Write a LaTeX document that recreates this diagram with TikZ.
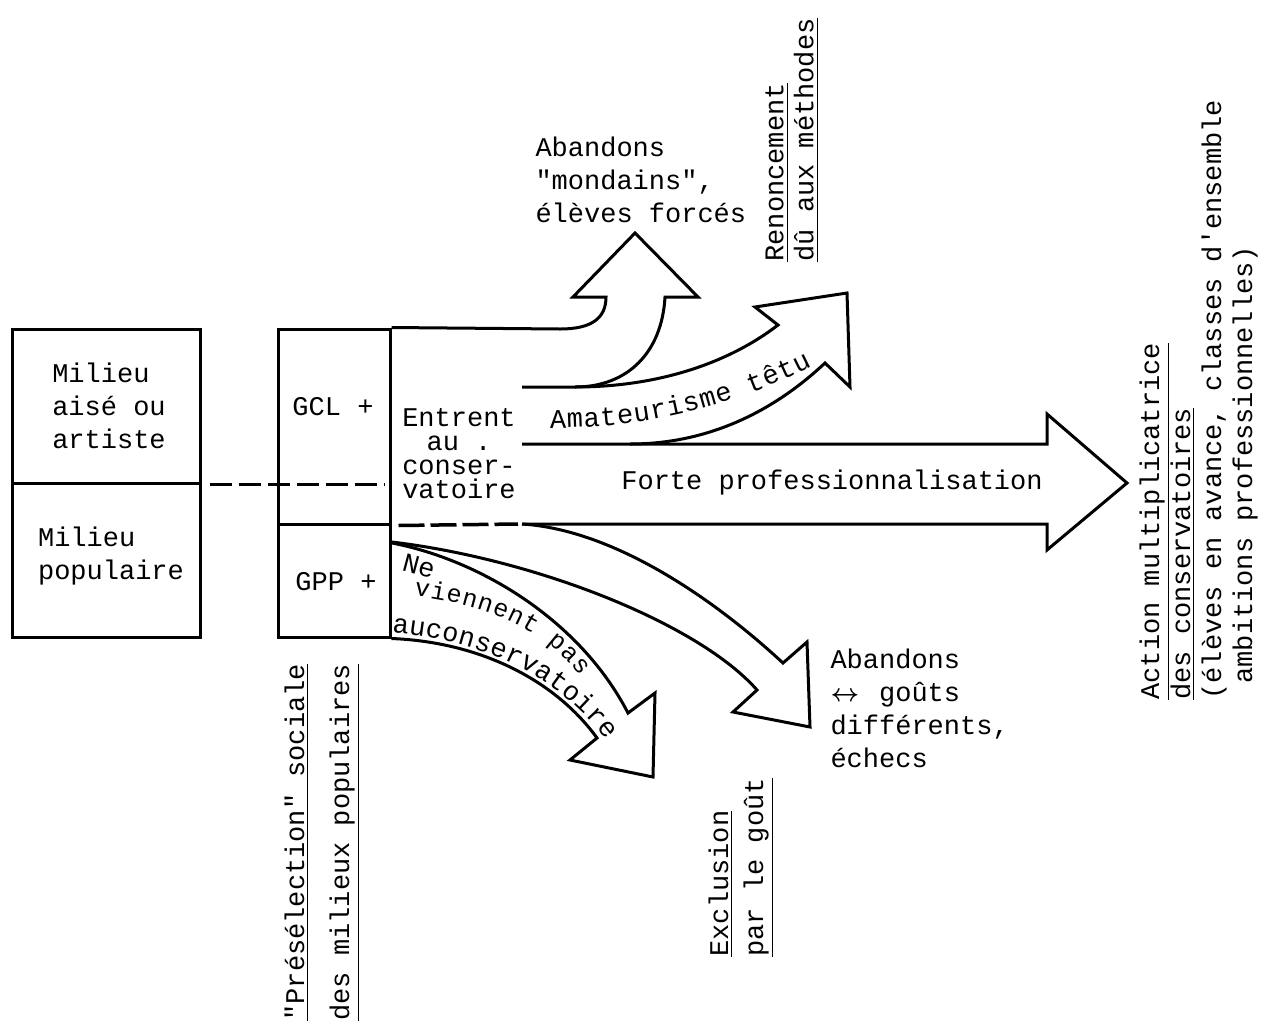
\documentclass[tikz,border=0pt]{standalone}
\usepackage{amsmath}
\usepackage{fontspec}
\newfontfamily\typew{Liberation Mono}
\usetikzlibrary{decorations.text}
\newcommand\tightfont{\typew\fontsize{27}{24}\selectfont\lineskiplimit=-20pt\relax}

\begin{document}
\typew\fontsize{27}{33}\selectfont
\begin{tikzpicture}[x=1pt,y=-1pt,line width=3pt,
  font=\typew\fontsize{27}{33}\selectfont,
  cell/.style={draw,inner sep=0pt},
  lbl/.style={inner sep=0pt,align=left},
  vtext/.style={rotate=90,anchor=north west,align=left,inner sep=0pt},
  dashline/.style={dash pattern=on 22pt off 7pt,line width=3.5pt},
  curvetext/.style={decorate,decoration={text along path,text={#1},text align={fit to path}}}]
\useasboundingbox (0,0) rectangle (1269,1023);

% milieux
\node[cell,minimum width=188pt,minimum height=154pt] (aise) at (106,406) {};
\node[cell,minimum width=188pt,minimum height=154pt] (popu) at (106,560) {};
\node[lbl] (aisetxt) at (109,406) {Milieu\\aisé ou\\artiste};
\node[lbl] (poputxt) at (111,556) {Milieu\\populaire};

% groupes
\node[cell,minimum width=112pt,minimum height=195pt] (gcl) at (334,426.5) {};
\node[cell,minimum width=112pt,minimum height=113pt] (gpp) at (334,580.5) {};
\node (gcltxt) at (333,407) {GCL +};
\node (gpptxt) at (336,582) {GPP +};

\draw[dashline] ([xshift=8pt]aise.south east) -- ([xshift=-7pt]gcl.east |- aise.south);
\draw[dashline,dash pattern=on 26pt off 6pt] ([xshift=7pt]gcl.south east) -- (518,524);

% fleches vers le haut
\draw (gcl.north east) -- (560,329) .. controls (592,329) and (606,318) .. (606,297)
  -- (573,297) -- (635,233) -- (698,297) -- (665,297)
  .. controls (662,352) and (628,387) .. (575,387) -- (522,387);
\draw (575,387) .. controls (660,387) and (730,362) .. (778,325) -- (755,307) -- (847,293)
  -- (850,387) -- (825,363) .. controls (775,410) and (710,444) .. (630,444);
\draw (522,444) -- (1047,444) -- (1047,414) -- (1127,483) -- (1047,550) -- (1047,524) -- (522,524);

% fleches vers le bas
\draw (522,524) .. controls (615,530) and (715,600) .. (783,663) -- (807,642) -- (810,727)
  -- (733,712) -- (757,690) .. controls (700,625) and (540,560) .. (392,542);
\draw (392,543) .. controls (480,560) and (580,620) .. (628,713) -- (655,693) -- (653,777)
  -- (570,760) -- (597,738) .. controls (555,680) and (480,642) .. (gpp.south east);

\node[align=center,inner sep=0pt,font=\tightfont] (entrent) at (459,454) {Entrent\\au .\\conser-\\vatoire};
\node (prof) at (832,483) {Forte professionnalisation};
\path[curvetext={Amateurisme têtu}] (550,428) .. controls (640,428) and (725,410) .. (812,366);
\node[rotate=-15] (ne) at (419,566) {Ne};
{\fontsize{25}{30}\selectfont
\path[curvetext={viennent pas}] (414,596) .. controls (486,604) and (546,630) .. (580,676);}
\path[curvetext={auconservatoire}] (392,633) .. controls (482,640) and (558,676) .. (606,740);

\node[lbl,anchor=west] (mondain) at (534,180) {Abandons\\"mondains",\\élèves forcés};
\node[lbl,anchor=west] (echec) at (829,708) {Abandons\\$\boldsymbol{\leftrightarrow}$\hspace{20pt}goûts\\différents,\\échecs};

\node[vtext,font=\typew\fontsize{27}{30}\selectfont] (renon) at (764,263) {\underline{Renoncement}\\\underline{dû aux méthodes}};
\node[vtext,font=\typew\fontsize{27}{35}\selectfont] (exclu) at (707,958) {\underline{Exclusion}\\\underline{par le goût}};
\node[vtext,font=\typew\fontsize{27}{45}\selectfont] (presel) at (283,1022) {\underline{"Présélection" sociale}\\\underline{des milieux populaires}};
\node[vtext,font=\typew\fontsize{27}{31}\selectfont] (action) at (1138,701) {\underline{Action multiplicatrice}\\\underline{des conservatoires}\\(élèves en avance, classes d'ensemble\\\hspace*{16pt}ambitions professionnelles)};
\end{tikzpicture}
\end{document}
